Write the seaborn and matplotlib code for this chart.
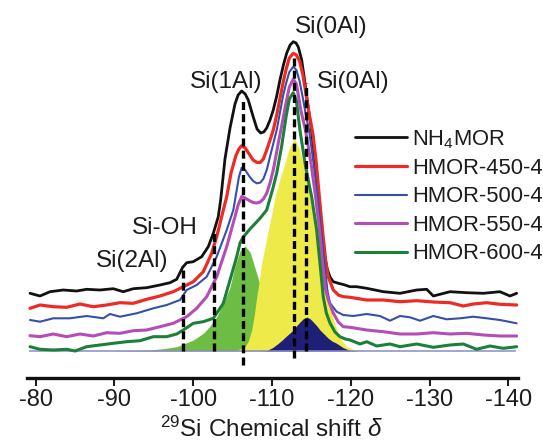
import matplotlib
matplotlib.use("Agg")
import matplotlib.pyplot as plt
import seaborn as sns

# ---------------------------------------------------------------------------
# 29Si MAS NMR spectra (stacked, intensity in arbitrary units)
# ---------------------------------------------------------------------------
black_shift = [-79.28, -80.55, -81.82, -83.50, -85.20, -86.47, -88.16, -89.85, -91.12, -92.39,
               -94.09, -95.78, -97.05, -97.90, -98.66, -99.17, -100.00, -101.07, -101.91, -102.55,
               -103.18, -103.50, -104.03, -104.67, -105.30, -105.70, -106.15, -106.60, -106.99, -107.62,
               -108.10, -108.56, -108.95, -109.33, -109.75, -110.16, -110.60, -111.01, -111.45, -111.87,
               -112.30, -112.70, -113.05, -113.34, -113.77, -114.19, -114.61, -115.01, -115.46, -115.84,
               -116.22, -116.60, -116.98, -117.36, -117.78, -118.42, -119.05, -119.90, -120.75, -122.02,
               -124.13, -126.25, -128.37, -129.64, -130.48, -132.60, -134.72, -136.82, -138.94, -140.21,
               -141.06]
black_int = [57.7, 55, 59.3, 61, 60, 61.7, 61, 62.3, 59.3, 62.3,
             63.3, 66, 68.3, 71.7, 83.7, 88.3, 89.3, 94.3, 104.3, 117.7,
             134.3, 152, 192, 223, 247, 256, 260, 257, 251, 234,
             222, 218, 219, 223, 231, 241, 255, 271, 286, 298,
             306, 309.3, 308, 304, 291, 268, 243, 221, 188, 155,
             123, 99, 83, 74, 69.3, 67.7, 66.5, 64.3, 64.3, 62.7,
             59.3, 57.7, 61, 61.7, 55, 59.3, 58.3, 57.7, 59.3, 55,
             57.7]

red_shift = [-79.28, -80.55, -82.23, -83.94, -85.62, -87.31, -89.01, -90.70, -92.39, -94.09,
             -95.78, -97.47, -98.74, -100.01, -101.28, -102.34, -102.98, -103.61, -104.25, -104.80,
             -105.40, -105.80, -106.15, -106.60, -107.10, -107.60, -108.10, -108.50, -108.90, -109.33,
             -109.80, -110.16, -110.60, -111.00, -111.40, -111.80, -112.20, -112.70, -113.10, -113.50,
             -113.90, -114.30, -114.70, -115.20, -115.62, -116.00, -116.41, -116.85, -117.15, -117.78,
             -118.42, -119.05, -119.90, -122.02, -124.13, -126.25, -128.37, -130.48, -132.60, -134.29,
             -135.55, -137.26, -138.94, -141.06]
red_int = [42.7, 46, 44.3, 43.7, 47, 44.3, 46, 48.3, 47.7, 51.7,
           55, 59.3, 64.3, 69.3, 79.3, 97.7, 114.3, 134.3, 154.3, 178,
           195, 202, 205.3, 203, 197, 191, 188.5, 188.5, 192, 201,
           212, 221, 236, 252, 268, 282, 293, 297.7, 296, 290,
           277, 258, 238, 217, 188, 155, 121, 88, 74, 61,
           56, 54.3, 53.7, 51, 51, 49.3, 50.3, 49, 48.3, 45,
           47, 48.3, 46.7, 46]

blue_shift = [-79.28, -80.55, -82.23, -84.35, -86.47, -88.58, -89.43, -90.70, -92.82, -94.93,
              -96.63, -98.32, -99.17, -100.44, -101.71, -102.98, -104.25, -105.09, -105.50, -105.80,
              -106.15, -106.60, -107.10, -107.60, -108.06, -108.50, -108.90, -109.33, -109.96, -110.60,
              -111.00, -111.40, -111.80, -112.20, -112.70, -113.10, -113.50, -113.87, -114.30, -114.70,
              -115.27, -115.78, -116.22, -116.66, -117.04, -117.36, -118.21, -119.05, -120.32, -122.02,
              -123.71, -124.98, -126.25, -127.52, -128.79, -130.48, -132.18, -133.87, -135.55, -137.26,
              -138.94, -141.06]
blue_int = [31, 29.3, 32.7, 32.7, 35, 32.7, 37, 34.3, 37.7, 42.7,
            46, 51, 61, 66, 74.3, 94.3, 121, 141, 160, 174,
            183.3, 181, 175, 170, 167.7, 168.3, 172, 181, 201, 221,
            238, 255, 268, 279, 284.3, 281, 270, 255, 236, 221,
            188, 155, 121, 88, 60, 48, 39.3, 36, 35, 37,
            35, 30.3, 35, 33.7, 30.3, 35, 31.7, 32.7, 34.3, 32.7,
            31, 27.7]

purple_shift = [-79.28, -80.55, -82.23, -83.94, -85.62, -87.31, -89.01, -90.70, -92.39, -94.09,
                -95.78, -97.47, -99.17, -100.44, -101.71, -102.98, -104.25, -105.30, -105.70, -106.15,
                -106.60, -107.10, -107.60, -108.06, -108.50, -108.90, -109.33, -109.75, -110.16, -110.50,
                -110.80, -111.23, -111.70, -112.20, -112.70, -113.10, -113.68, -114.25, -114.95, -115.52,
                -116.03, -116.41, -116.79, -117.15, -117.78, -118.42, -119.05, -119.90, -122.02, -124.13,
                -126.25, -128.37, -130.48, -132.60, -134.72, -136.82, -138.94, -141.06]
purple_int = [15.3, 14.3, 17, 14.3, 17, 15, 18.3, 17.7, 20.3, 21,
              24.3, 27.7, 34.3, 42.7, 54.3, 74.3, 104.3, 134.3, 146, 154.5,
              153, 150.5, 148.5, 148, 149, 152, 157.7, 168, 181, 195,
              208, 225, 245, 264, 271.7, 267, 240, 221, 188, 155,
              121, 88, 62, 51, 38, 29, 24.3, 23.7, 21, 19.3,
              17, 17, 18.3, 17, 17.7, 16, 15, 15]

green_shift = [-79.28, -80.55, -82.23, -83.94, -84.99, -86.47, -88.16, -89.85, -91.55, -93.24,
               -94.93, -96.63, -97.90, -98.74, -100.01, -101.28, -102.55, -103.82, -104.67, -105.52,
               -105.94, -106.35, -107.21, -108.48, -109.33, -110.16, -110.60, -111.23, -111.80, -112.20,
               -112.70, -113.10, -113.55, -114.19, -114.70, -115.04, -115.67, -116.09, -116.51, -116.90,
               -117.36, -118.00, -118.63, -119.30, -119.90, -121.17, -122.02, -123.29, -124.98, -126.25,
               -128.37, -130.48, -132.60, -134.29, -135.98, -137.67, -139.36, -141.06]
green_int = [4.3, 1.7, 1, 1.7, 0, 4.3, 6, 7.7, 9.3, 10.3,
             14.3, 14.3, 17, 21, 27.7, 29.3, 32.7, 47.7, 71, 94.3,
             108, 114, 122, 132.7, 141, 164, 178, 205, 235, 252,
             258.3, 250, 221, 188, 167, 154, 121, 88, 54, 38,
             28, 19, 14.3, 12, 11, 7, 9.3, 5, 7, 4.3,
             7, 3.7, 6, 7, 1.7, 5, 2.7, 4.3]

# Deconvoluted components of HMOR-600-4
si1al_shift = [-90.0, -92.0, -94.51, -96.41, -97.90, -98.95, -100.01, -101.28, -102.13, -102.98,
               -103.52, -104.03, -104.67, -105.30, -105.94, -106.57, -107.21, -107.84, -108.69, -109.11,
               -109.74, -110.38, -111.01, -112.28, -113.55, -115.0]
si1al_int = [0.2, 0.5, 1, 2.5, 4.3, 7.5, 11, 17.7, 25, 34.3,
             43, 51, 64, 85, 100, 105, 99, 83, 61, 48,
             30, 17, 9, 3, 0.5, 0]

si0al_shift = [-104.0, -105.5, -106.57, -107.0, -107.42, -107.75, -108.06, -108.4, -108.69, -109.1,
               -109.53, -110.0, -110.38, -111.0, -111.65, -112.2, -112.83, -113.4, -113.97, -114.5,
               -115.04, -115.45, -115.88, -116.2, -116.51, -116.85, -117.15, -117.6, -118.21, -118.8,
               -119.48, -120.5, -122.0]
si0al_int = [0, 0.8, 4.3, 10, 21, 36, 54, 71, 88, 104,
             121, 138, 154, 172, 188, 203, 212.7, 203, 188, 171,
             154, 138, 121, 104, 88, 71, 54, 37, 21, 11,
             4.3, 1.2, 0]

si0al_b_shift = [-108.5, -109.33, -110.1, -110.8, -111.3, -111.7, -112.2, -112.7, -113.1, -113.55,
                 -114.0, -114.4, -114.8, -115.24, -115.7, -116.09, -116.6, -117.11, -117.6, -118.21,
                 -119.0, -119.9, -121.0]
si0al_b_int = [0, 0.5, 3.5, 7.7, 11, 14, 17.5, 21, 25, 29,
               32.5, 34, 32.5, 29, 25, 21, 17, 13, 10, 7.7,
               3.5, 0.5, 0]

# Peak assignments (dashed markers)
marker_shift = [-98.74, -102.64, -106.27, -112.79, -114.30]
marker_top = [81, 119, 251, 296, 268]
marker_bottom = [0, 0, -14, -7, 0]

label_text = ["Si(0Al)", "Si(1Al)", "Si(0Al)", "Si-OH", "Si(2Al)"]
label_shift = [-112.92, -99.59, -115.67, -92.26, -87.66]
label_level = [317.7, 262.7, 262.7, 116.7, 84.3]

sample_names = ["NH$_4$MOR", "HMOR-450-4", "HMOR-500-4", "HMOR-550-4", "HMOR-600-4"]
tick_values = [-80, -90, -100, -110, -120, -130, -140]
tick_labels = ["-80", "-90", "-100", "-110", "-120", "-130", "-140"]

# ---------------------------------------------------------------------------
sns.set_theme(style="white")
plt.rcParams["font.family"] = ["Liberation Sans", "DejaVu Sans"]
plt.rcParams["mathtext.fontset"] = "custom"
plt.rcParams["mathtext.rm"] = "Liberation Sans"
plt.rcParams["mathtext.it"] = "Liberation Sans:italic"
plt.rcParams["mathtext.bf"] = "Liberation Sans:bold"
plt.rcParams["mathtext.default"] = "regular"
plt.rcParams["axes.unicode_minus"] = False

TEXT = "#1c1c1c"

fig = plt.figure(figsize=(5.43, 4.45), dpi=100)
ax = fig.add_axes([26.7 / 543, 1 - 377.7 / 445, 491.3 / 543, 377.7 / 445])

# fitted components
ax.fill_between(si1al_shift, 0, si1al_int, color="#6dbd45", lw=0, zorder=1)
ax.fill_between(si0al_shift, 0, si0al_int, color="#eeea4a", lw=0, zorder=2)
ax.fill_between(si0al_b_shift, 0, si0al_b_int, color="#1f1f78", lw=0, zorder=3)
ax.hlines(0, -79.2, -141.0, colors="#8a8cc8", lw=1.1, zorder=4)

# spectra
series = [
    (black_shift, black_int, "#111111", 2.0),
    (red_shift, red_int, "#ee2a24", 2.3),
    (blue_shift, blue_int, "#3450a8", 1.5),
    (purple_shift, purple_int, "#b54db8", 2.2),
    (green_shift, green_int, "#1c8038", 2.2),
]
for name, (xs, ys, col, lw) in zip(sample_names, series):
    sns.lineplot(x=xs, y=ys, color=col, linewidth=lw, sort=False, estimator=None,
                 label=name, ax=ax, zorder=5)

# assignment markers
ax.vlines(marker_shift, marker_bottom, marker_top, colors="black", linewidth=2.4,
          linestyles=(0, (2.4, 1.25)), zorder=6)

for txt, xs, yl in zip(label_text, label_shift, label_level):
    ax.text(xs, yl, txt, ha="left", va="baseline", fontsize=17.5, color=TEXT, zorder=7)

ax.set_xlim(-78.86, -141.23)
ax.set_ylim(-26.7, 351)
ax.set_yticks([])
ax.set_xticks(tick_values)
ax.set_xticklabels(tick_labels)
ax.tick_params(axis="x", direction="out", length=5.5, width=1.5, pad=2.5,
               labelsize=17, colors=TEXT, bottom=True)
for side in ["left", "right", "top"]:
    ax.spines[side].set_visible(False)
ax.spines["bottom"].set_linewidth(2.4)
ax.spines["bottom"].set_color("#111111")
ax.patch.set_alpha(0)

ax.set_ylabel("")
ax.set_xlabel(r"$^{29}$Si Chemical shift $\mathit{\delta}$", fontsize=17.5, color=TEXT)
ax.xaxis.set_label_coords(0.4973, -0.158)
ax.xaxis.label.set_va("baseline")

ax.legend(loc="upper left", bbox_to_anchor=(355 / 543, 1 - 128 / 445),
          bbox_transform=fig.transFigure, frameon=False, fontsize=15.8,
          handlelength=2.35, handletextpad=0.25, labelspacing=0.337,
          borderpad=0, borderaxespad=0, labelcolor=TEXT)

fig.savefig("out.png", dpi=100)
